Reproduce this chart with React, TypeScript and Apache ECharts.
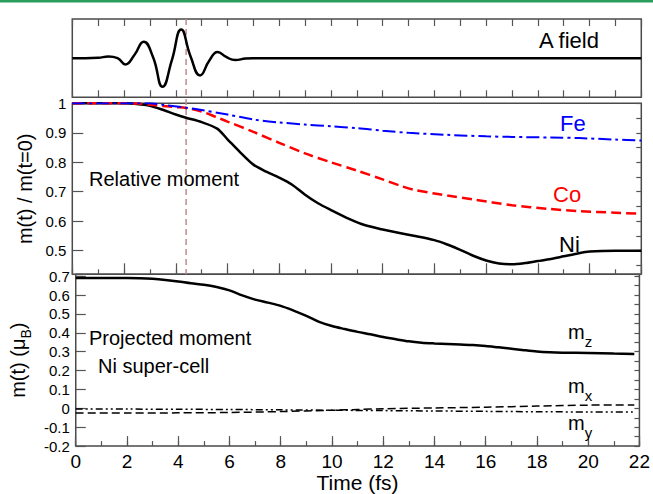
import React, { useEffect, useRef } from "react";
import * as echarts from "echarts";

// ---- data (time in fs) ----
const aField: [number, number][] = [
  [0, 0], [0.5, 0], [1.0, 0.01], [1.4, 0.04], [1.75, 0], [2.05, -0.16], [2.4, 0.08],
  [2.76, 0.42], [3.12, 0.03], [3.49, -0.73], [3.85, -0.05], [4.21, 0.73], [4.57, 0.05],
  [4.94, -0.44], [5.3, -0.06], [5.62, 0.16], [5.95, 0.03], [6.3, -0.05], [6.7, -0.01],
  [7.0, 0], [10, 0], [15, 0], [22, 0],
];

const niData: [number, number][] = [
  [0, 1.0], [1, 1.0], [2, 1.0], [2.5, 0.998], [3, 0.992], [3.5, 0.978], [4, 0.962],
  [4.4, 0.951], [5, 0.936], [5.6, 0.914], [6, 0.878], [6.5, 0.833], [7, 0.792],
  [7.5, 0.768], [8, 0.748], [8.5, 0.724], [9, 0.69], [9.5, 0.661], [10, 0.638],
  [10.7, 0.608], [11.3, 0.587], [12, 0.572], [12.7, 0.559], [13.2, 0.551], [14, 0.536],
  [14.5, 0.521], [15, 0.503], [15.5, 0.483], [16, 0.467], [16.5, 0.457], [17, 0.454],
  [17.5, 0.458], [18, 0.465], [18.5, 0.472], [19, 0.481], [19.5, 0.49], [20, 0.497],
  [21, 0.5], [22, 0.5],
];

const coData: [number, number][] = [
  [0, 1.0], [2, 1.0], [2.5, 0.999], [3, 0.995], [3.5, 0.991], [4, 0.987], [4.4, 0.984],
  [5, 0.972], [5.6, 0.952], [6, 0.938], [7, 0.903], [8, 0.866], [9, 0.83], [10, 0.8],
  [11, 0.772], [12, 0.742], [12.7, 0.72], [13.2, 0.707], [14, 0.694], [14.5, 0.687],
  [15.5, 0.674], [17, 0.654], [18.4, 0.642], [19.6, 0.634], [21, 0.629], [21.8, 0.626],
];

const feData: [number, number][] = [
  [0, 1.0], [3, 1.0], [3.5, 0.995], [4.4, 0.985], [5, 0.977], [6, 0.962], [7, 0.945],
  [8, 0.935], [9, 0.928], [10, 0.922], [11, 0.916], [12, 0.907], [13, 0.9], [14.5, 0.893],
  [16, 0.888], [17, 0.886], [18.5, 0.884], [19.6, 0.882], [21, 0.877], [22, 0.874],
];

const mzData: [number, number][] = [
  [0, 0.69], [1, 0.69], [2, 0.69], [2.5, 0.689], [3, 0.686], [3.5, 0.68], [4, 0.672],
  [4.5, 0.662], [5, 0.655], [5.5, 0.643], [6, 0.625], [6.5, 0.598], [7, 0.576],
  [7.5, 0.56], [8, 0.543], [8.5, 0.518], [9, 0.49], [9.5, 0.458], [10, 0.436],
  [10.5, 0.42], [11, 0.405], [11.5, 0.392], [12, 0.378], [12.5, 0.366], [13, 0.355],
  [13.5, 0.348], [14, 0.344], [14.5, 0.341], [15, 0.338], [15.5, 0.335], [16, 0.33],
  [16.5, 0.323], [17, 0.316], [17.5, 0.308], [18, 0.301], [18.5, 0.297], [19, 0.295],
  [20, 0.293], [21, 0.29], [21.8, 0.288],
];

const mxData: [number, number][] = [
  [0, -0.025], [2, -0.025], [4, -0.024], [6, -0.022], [8, -0.017], [10, -0.01],
  [11, -0.006], [12, -0.002], [14, 0.002], [16, 0.006], [18, 0.012], [20, 0.017], [21.8, 0.018],
];

const myData: [number, number][] = [
  [0, -0.004], [2, -0.004], [4, -0.005], [6, -0.006], [8, -0.008], [10, -0.01],
  [12, -0.012], [14, -0.014], [16, -0.016], [18, -0.018], [20, -0.019], [21.8, -0.019],
];

const MARKER_T = 4.4;

const FONT = "'Liberation Sans', Arial, Helvetica, sans-serif";

function fmt(v: number): string {
  const r = Math.round(v * 10) / 10;
  if (Math.abs(v - r) > 1e-6) return "";
  if (Math.abs(r - 1) < 1e-9) return "1";
  if (Math.abs(r) < 1e-9) return "0";
  return r.toFixed(1);
}

export default function App() {
  const ref = useRef<HTMLDivElement>(null);

  useEffect(() => {
    if (!ref.current) return;
    const chart = echarts.init(ref.current, undefined, { renderer: "svg" });
    const L = 72.3;
    const R = 11.7;
    const frame = { show: true, borderColor: "#4a4a4a", borderWidth: 1.5, backgroundColor: "transparent" };
    const tickLine = { color: "#555", width: 1.2 };
    const xBase = (grid: number, interval: number, len: number, pos: string) => ({
      gridIndex: grid,
      type: "value",
      min: 0,
      max: 22,
      interval,
      position: pos,
      axisLine: { show: false, onZero: false },
      axisTick: { show: true, inside: true, length: len, lineStyle: tickLine },
      axisLabel: { show: false },
      splitLine: { show: false },
    });

    const option: any = {
      animation: false,
      textStyle: { fontFamily: FONT },
      grid: [
        { left: L, right: R, top: 19, height: 78.3, ...frame },
        { left: L, right: R, top: 103.3, height: 171, ...frame },
        { left: L, right: R, top: 274.3, height: 172.2, ...frame },
      ],
      xAxis: [
        xBase(0, 1, 7, "bottom"),
        xBase(0, 1, 7, "top"),
        xBase(1, 2, 11, "bottom"),
        xBase(1, 1, 5, "bottom"),
        {
          ...xBase(2, 2, 10, "bottom"),
          axisLabel: { show: true, fontSize: 19, color: "#000", margin: 6, fontFamily: FONT },
          name: "Time (fs)",
          nameLocation: "middle",
          nameGap: 25,
          nameTextStyle: { fontSize: 21, color: "#000", fontFamily: FONT },
        },
        xBase(2, 1, 5, "bottom"),
      ],
      yAxis: [
        { gridIndex: 0, type: "value", min: -1, max: 1, show: false, splitLine: { show: false } },
        {
          gridIndex: 1,
          type: "value",
          min: 0.42,
          max: 1,
          splitNumber: 6,
          minInterval: 0.1,
          maxInterval: 0.1,
          axisLine: { show: false, onZero: false },
          axisTick: { show: true, inside: true, length: 11, lineStyle: tickLine },
          axisLabel: { formatter: fmt, fontSize: 15, color: "#000", margin: 6, fontFamily: FONT },
          splitLine: { show: false },
          name: "m(t) / m(t=0)",
          nameLocation: "middle",
          nameGap: 32,
          nameTextStyle: { fontSize: 20, color: "#000", fontFamily: FONT },
        },
        {
          gridIndex: 1,
          type: "value",
          min: 0.42,
          max: 1,
          splitNumber: 12,
          minInterval: 0.05,
          maxInterval: 0.05,
          axisLine: { show: false, onZero: false },
          axisTick: { show: true, inside: true, length: 5, lineStyle: tickLine },
          axisLabel: { show: false },
          splitLine: { show: false },
        },
        {
          gridIndex: 2,
          type: "value",
          min: -0.2,
          max: 0.71,
          interval: 0.1,
          axisLine: { show: false, onZero: false },
          axisTick: { show: true, inside: true, length: 10, lineStyle: tickLine },
          axisLabel: { formatter: fmt, fontSize: 15, color: "#000", margin: 6, fontFamily: FONT },
          splitLine: { show: false },
          name: "m(t) (μ{s|B})",
          nameLocation: "middle",
          nameGap: 40,
          nameTextStyle: {
            fontSize: 20,
            color: "#000",
            fontFamily: FONT,
            rich: { s: { fontSize: 14, padding: [16, 0, 0, 0], color: "#000", fontFamily: FONT } },
          },
        },
        {
          gridIndex: 2,
          type: "value",
          min: -0.2,
          max: 0.71,
          interval: 0.05,
          axisLine: { show: false, onZero: false },
          axisTick: { show: true, inside: true, length: 5, lineStyle: tickLine },
          axisLabel: { show: false },
          splitLine: { show: false },
        },
      ],
      series: [
        {
          name: "A field", type: "line", xAxisIndex: 0, yAxisIndex: 0, data: aField,
          showSymbol: false, smooth: 0.5, lineStyle: { color: "#000", width: 2.5 },
        },
        {
          name: "Ni", type: "line", xAxisIndex: 2, yAxisIndex: 1, data: niData,
          showSymbol: false, smooth: 0.3, lineStyle: { color: "#000", width: 2.5 },
        },
        {
          name: "Co", type: "line", xAxisIndex: 2, yAxisIndex: 1, data: coData,
          showSymbol: false, smooth: 0.3, lineStyle: { color: "#ff0000", width: 2.5, type: [10, 5] },
        },
        {
          name: "Fe", type: "line", xAxisIndex: 2, yAxisIndex: 1, data: feData,
          showSymbol: false, smooth: 0.3, lineStyle: { color: "#0000ff", width: 2, type: [13, 4, 3, 4] },
        },
        {
          name: "mz", type: "line", xAxisIndex: 4, yAxisIndex: 3, data: mzData,
          showSymbol: false, smooth: 0.3, lineStyle: { color: "#000", width: 2.5 },
        },
        {
          name: "mx", type: "line", xAxisIndex: 4, yAxisIndex: 3, data: mxData,
          showSymbol: false, smooth: 0.3, lineStyle: { color: "#000", width: 1.5, type: [8, 4] },
        },
        {
          name: "my", type: "line", xAxisIndex: 4, yAxisIndex: 3, data: myData,
          showSymbol: false, smooth: 0.3, lineStyle: { color: "#000", width: 1.5, type: [7, 3, 2, 3, 2, 3] },
        },
      ],
    };

    chart.setOption(option);

    const xm = chart.convertToPixel({ xAxisIndex: 0 } as any, MARKER_T) as number;
    const yTop = chart.convertToPixel({ yAxisIndex: 0 } as any, 1) as number;
    const yBot = chart.convertToPixel({ yAxisIndex: 1 } as any, 0.42) as number;

    const txt = (text: string, x: number, y: number, size: number, color = "#000", rich?: any) => ({
      type: "text",
      z: 10,
      style: {
        text, x, y, fill: color, fontSize: size, fontFamily: FONT,
        textAlign: "left", textVerticalAlign: "middle", verticalAlign: "middle",
        ...(rich ? { rich } : {}),
      },
    });
    const subRich = { s: { fontSize: 15, padding: [18, 0, 0, 0], fill: "#000", fontFamily: FONT } };

    chart.setOption({
      graphic: [
        { type: "rect", z: 10, shape: { x: 0, y: 0, width: 653, height: 2.5 }, style: { fill: "#2a9d5c" } },
        {
          type: "line", z: 0,
          shape: { x1: xm, y1: yTop, x2: xm, y2: yBot },
          style: { stroke: "#c48a8a", lineWidth: 1.5, lineDash: [6, 4] },
        },
        txt("A field", 539, 40.7, 22),
        txt("Fe", 560, 123, 22, "#0000ff"),
        txt("Co", 553, 194, 22, "#ff0000"),
        txt("Ni", 559, 244.7, 22),
        txt("Relative moment", 89, 179.4, 20),
        txt("Projected moment", 89, 338.4, 20),
        txt("Ni super-cell", 98, 366.4, 20),
        txt("m{s|z}", 568, 332, 20, "#000", subRich),
        txt("m{s|x}", 568, 386.4, 20, "#000", subRich),
        txt("m{s|y}", 568, 423, 20, "#000", subRich),
      ],
    });

    return () => chart.dispose();
  }, []);

  return (
    <div
      ref={ref}
      style={{ position: "fixed", left: 0, top: 0, width: 653, height: 494, background: "#fff" }}
    />
  );
}
